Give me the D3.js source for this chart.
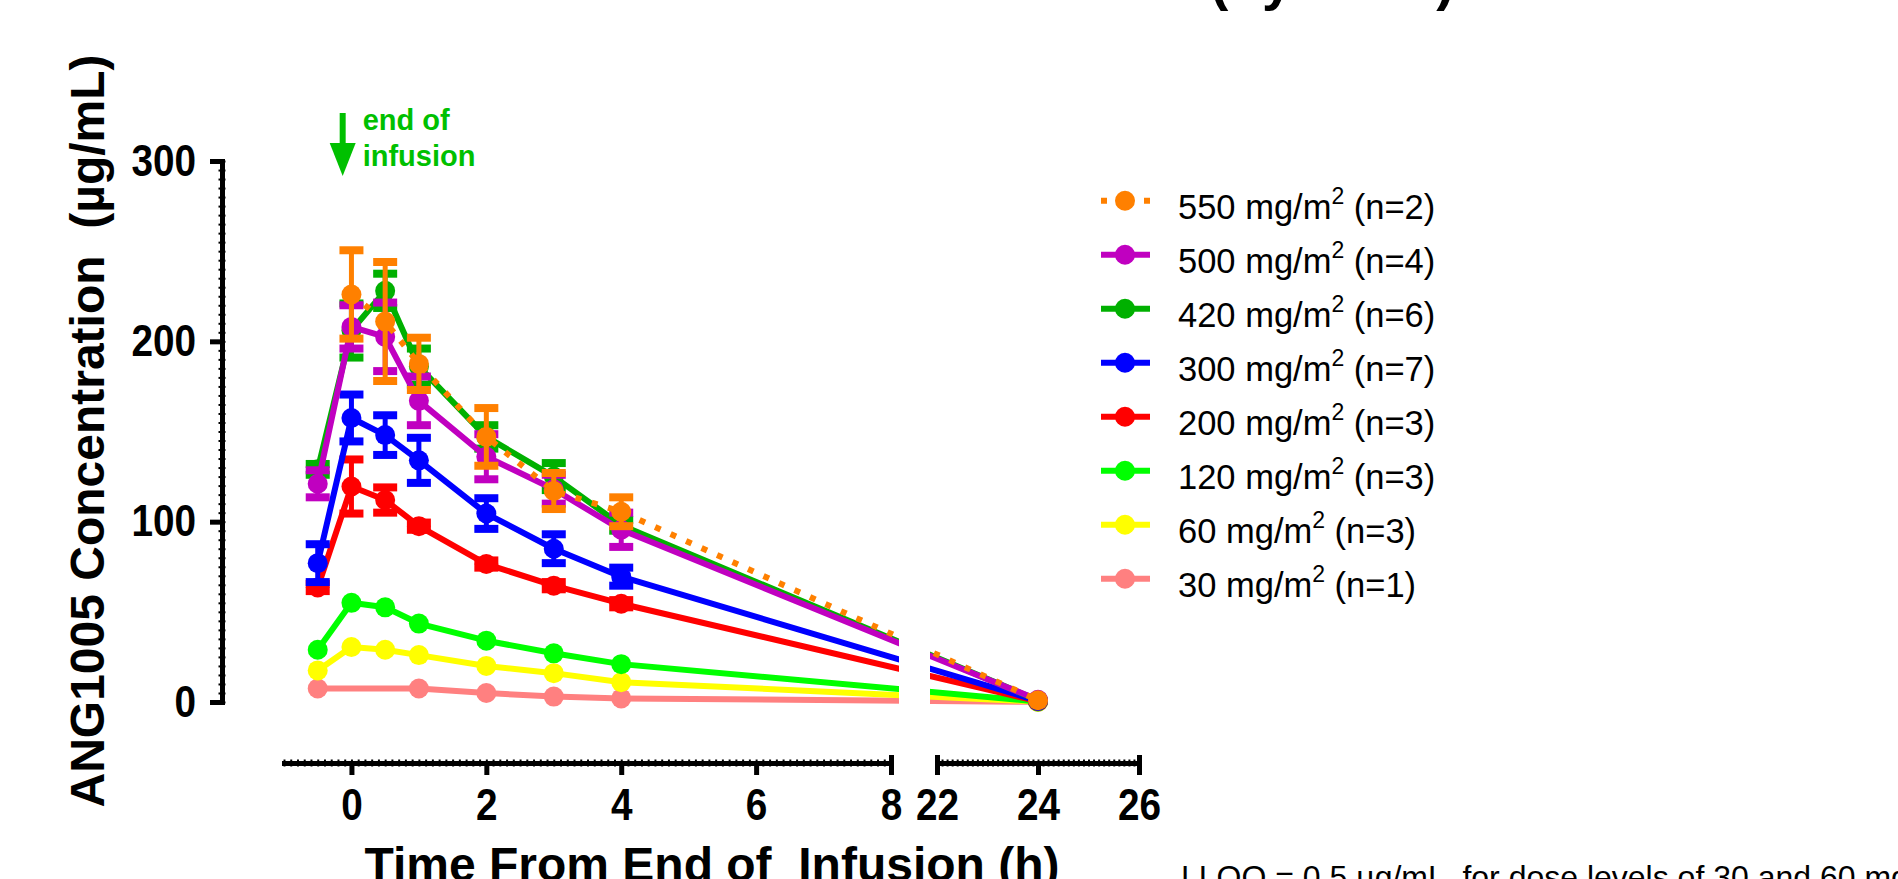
<!DOCTYPE html>
<html lang="en">
<head>
  <meta charset="utf-8">
  <script src="https://d3js.org/d3.v7.min.js"></script>
  <style>
    body { margin: 0; background: #fff; }
    svg { display: block; font-family: 'Liberation Sans', Arial, Helvetica, sans-serif; }
    text { white-space: pre; }
    .axis .domain { stroke: #000; stroke-width: 5; stroke-linecap: square; }
    .axis .tick line { stroke: #000; stroke-width: 5; }
    .axis text { font-size: 44px; font-weight: bold; fill: #000; }
    .minor .tick line { stroke: #000; stroke-width: 2; }
    .axis-title { font-size: 48px; font-weight: bold; fill: #000; }
    .legend text { font-size: 34.5px; fill: #000; }
    .note { font-size: 32px; fill: #000; }
  </style>
</head>
<body>
<svg id="chart" width="1898" height="879"></svg>
<script>
  // sampling times (h from end of infusion)
  const times = [-0.5, 0, 0.5, 1, 2, 3, 4, 24];

  const doseLabels = ["550", "500", "420", "300", "200", "120", "60", "30"];
  const subjects = [2, 4, 6, 7, 3, 3, 3, 1];
  const colors = ["#ff8000", "#c000c0", "#00b000", "#0000ff", "#ff0000", "#00ff00", "#ffff00", "#ff8080"];

  // mean concentration (ug/mL) and SEM per dose level, null = not sampled
  const mean550 = [null, 226, 211, 187.5, 147, 117, 105.5, 1.0];
  const sem550  = [null, 24.5, 33, 14.5, 16, 10, 8, 0];
  const mean500 = [121, 208, 202.5, 167, 136, 118, 95.5, 1.2];
  const sem500  = [7.5, 12, 19, 13.5, 12.5, 8, 9.5, 0];
  const mean420 = [129, 206, 228, 186, 147, 125, 98, 1.0];
  const sem420  = [3, 15, 9.5, 10, 6.5, 7.5, 3, 0];
  const mean300 = [77, 157.5, 148, 134, 104.5, 85, 69.5, 0.6];
  const sem300  = [10.5, 13, 11, 12.5, 8.5, 8, 5, 0];
  const mean200 = [63.5, 119.5, 112, 97.5, 76.5, 64.5, 54.5, 0.4];
  const sem200  = [2, 15, 7, 2, 2, 2, 2, 0];
  const mean120 = [29, 55, 52.5, 43.5, 34, 27, 21, 0.3];
  const mean60  = [17.5, 30.5, 29, 26, 20, 16, 11, 0.2];
  const mean30  = [7.5, null, null, 7.5, 5, 3, 2, 0.1];

  const means = [mean550, mean500, mean420, mean300, mean200, mean120, mean60, mean30];
  const sems = [sem550, sem500, sem420, sem300, sem200, null, null, null];

  const yTicks = [0, 100, 200, 300];
  const xTicksLeft = [0, 2, 4, 6, 8];
  const xTicksRight = [22, 24, 26];
  const arrowTime = -0.13;

  const svg = d3.select("#chart");
  const squeeze = 0.88; // tick labels are a condensed face in the original

  // broken x axis: two segments, data drawn with a piecewise scale
  const y = d3.scaleLinear().domain([0, 300]).range([702, 161]);
  const xLeft = d3.scaleLinear().domain([-1, 8]).range([284, 891]);
  const xRight = d3.scaleLinear().domain([22, 26]).range([937, 1139]);
  const x = d3.scaleLinear().domain([-1, 8, 22, 26]).range([284, 891, 937, 1139]);

  const clip = svg.append("defs").append("clipPath").attr("id", "gap");
  clip.append("rect").attr("x", 0).attr("y", 0).attr("width", 899).attr("height", 879);
  clip.append("rect").attr("x", 930).attr("y", 0).attr("width", 968).attr("height", 879);

  // ---- axes ----
  const yMinor = svg.append("g").attr("class", "minor")
    .attr("transform", "translate(225.5,0)")
    .call(d3.axisLeft(y).tickValues(d3.range(0, 301, 5)).tickSize(7).tickFormat(""));
  yMinor.select(".domain").remove();

  const yAxis = svg.append("g").attr("class", "axis")
    .attr("transform", "translate(222,0)")
    .call(d3.axisLeft(y).tickValues(yTicks).tickSize(12).tickSizeOuter(0).tickPadding(14));
  yAxis.selectAll(".tick text")
    .attr("x", -26 / squeeze)
    .attr("transform", `scale(${squeeze},1)`);

  [xLeft, xRight].forEach((sc, i) => {
    const minor = svg.append("g").attr("class", "minor")
      .attr("transform", "translate(0,759.5)")
      .call(d3.axisBottom(sc).tickValues(d3.range(sc.domain()[0], sc.domain()[1] + 0.001, 0.1))
        .tickSize(7).tickFormat(""));
    minor.select(".domain").remove();

    const xa = svg.append("g").attr("class", "axis")
      .attr("transform", "translate(0,763)")
      .call(d3.axisBottom(sc).tickValues(i === 0 ? xTicksLeft : xTicksRight)
        .tickFormat(d3.format("d"))
        .tickSize(12).tickSizeOuter(0).tickPadding(14));
    xa.selectAll(".tick text").attr("transform", `scale(${squeeze},1)`);

    // end marks pointing up at the break and the right end
    const ends = svg.append("g").attr("class", "axis")
      .attr("transform", "translate(0,763)")
      .call(d3.axisTop(sc).tickValues(i === 0 ? [8] : [22, 26]).tickSize(8).tickFormat(""));
    ends.select(".domain").remove();
  });

  svg.append("text").attr("class", "axis-title")
    .attr("transform", "translate(104,431) rotate(-90)")
    .attr("text-anchor", "middle")
    .text("ANG1005 Concentration  (\u00b5g/mL)");

  svg.append("text").attr("class", "axis-title")
    .attr("x", 712).attr("y", 881)
    .attr("text-anchor", "middle")
    .text("Time From End of  Infusion (h)");

  // cut-off title at the top edge
  svg.append("text")
    .attr("x", 1210).attr("y", -1)
    .style("font-size", "55px").style("font-weight", "bold")
    .text("(by dose)");

  // ---- end of infusion marker ----
  const ax = x(arrowTime);
  svg.append("line")
    .attr("x1", ax).attr("x2", ax).attr("y1", 113).attr("y2", 148)
    .attr("stroke", "#00c000").attr("stroke-width", 6);
  svg.append("path")
    .attr("d", `M${ax - 13},143L${ax + 13},143L${ax},176Z`)
    .attr("fill", "#00c000");
  svg.append("text").attr("x", ax + 20).attr("y", 130)
    .style("font-size", "29px").style("font-weight", "bold").attr("fill", "#00c000")
    .text("end of");
  svg.append("text").attr("x", ax + 20).attr("y", 166)
    .style("font-size", "29px").style("font-weight", "bold").attr("fill", "#00c000")
    .text("infusion");

  // ---- data, lowest dose drawn first ----
  const line = d3.line().x(d => x(d.t)).y(d => y(d.v));

  d3.range(means.length).reverse().forEach(i => {
    const pts = times.map((t, j) => ({ t: t, v: means[i][j], e: sems[i] ? sems[i][j] : 0 }))
      .filter(d => d.v !== null);
    const g = svg.append("g");
    const col = colors[i];

    g.append("path")
      .attr("d", line(pts))
      .attr("fill", "none")
      .attr("stroke", col)
      .attr("stroke-width", 6)
      .attr("stroke-linejoin", "round")
      .attr("stroke-dasharray", i === 0 ? "6 11" : null)
      .attr("clip-path", "url(#gap)");

    const bars = g.selectAll(".err").data(pts.filter(d => d.e > 0)).enter().append("g");
    bars.append("line")
      .attr("x1", d => x(d.t)).attr("x2", d => x(d.t))
      .attr("y1", d => y(d.v - d.e)).attr("y2", d => y(d.v + d.e))
      .attr("stroke", col).attr("stroke-width", 5);
    [1, -1].forEach(s => {
      bars.append("line")
        .attr("x1", d => x(d.t) - 12).attr("x2", d => x(d.t) + 12)
        .attr("y1", d => y(d.v + s * d.e)).attr("y2", d => y(d.v + s * d.e))
        .attr("stroke", col).attr("stroke-width", 8);
    });

    g.selectAll("circle").data(pts).enter().append("circle")
      .attr("cx", d => x(d.t)).attr("cy", d => y(d.v))
      .attr("r", 10).attr("fill", col);
  });

  // ---- legend ----
  const legend = svg.append("g").attr("class", "legend");
  doseLabels.forEach((dose, i) => {
    const row = legend.append("g").attr("transform", `translate(0,${200.7 + i * 54})`);
    row.append("line")
      .attr("x1", 1101).attr("x2", 1150)
      .attr("stroke", colors[i]).attr("stroke-width", 6)
      .attr("stroke-dasharray", i === 0 ? "6 37" : null);
    row.append("circle").attr("cx", 1125).attr("cy", 0).attr("r", 10).attr("fill", colors[i]);
    const t = row.append("text").attr("x", 1178).attr("y", 18);
    t.append("tspan").text(`${dose} mg/m`);
    t.append("tspan").attr("dy", -15).style("font-size", "23px").text("2");
    t.append("tspan").attr("dy", 15).text(` (n=${subjects[i]})`);
  });

  svg.append("text").attr("class", "note")
    .attr("x", 1181).attr("y", 888)
    .text("LLOQ = 0.5 \u00b5g/mL  for dose levels of 30 and 60 mg/m2");
</script>
</body>
</html>
